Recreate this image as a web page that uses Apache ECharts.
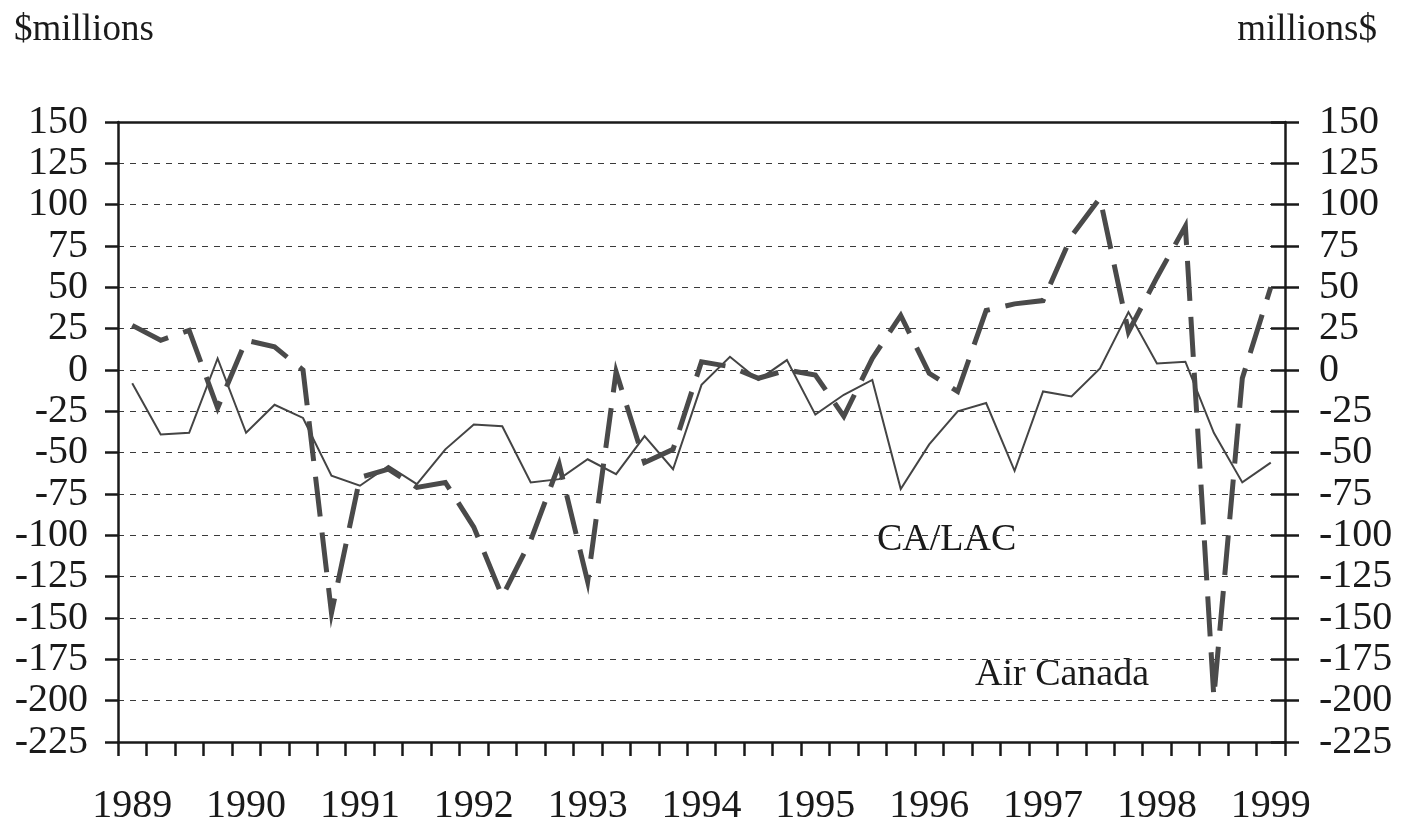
<!DOCTYPE html>
<html>
<head>
<meta charset="utf-8">
<script src="https://cdn.jsdelivr.net/npm/echarts@6/dist/echarts.min.js"></script>
<style>
html,body{margin:0;padding:0;background:#fff;}
#chart{width:1408px;height:821px;}
</style>
</head>
<body>
<div id="chart"></div>
<script>
// Quarterly categories 1989Q1 .. 1999Q1
var quarters = [];
for (var yr = 1989; yr <= 1999; yr++) {
  for (var q = 1; q <= 4; q++) {
    if (yr === 1999 && q > 1) break;
    quarters.push(yr + 'Q' + q);
  }
}

// Air Canada (thick dashed), $ millions
var airCanada = [27, 18, 24, -23, 18, 14, 0, -147,
                 -65, -60, -71, -68, -95, -137, -103, -57,
                 -128, -1, -56, -48, 5, 2, -5, 0,
                 -3, -28, 7, 33, -2, -13, 36, 40,
                 42, 81, 104, 23, 56, 87, -198, -5,
                 50];

// CA/LAC (thin solid), $ millions
var caLac = [-8, -39, -38, 7, -38, -21, -29, -64,
             -70, -58, -69, -48, -33, -34, -68, -66,
             -54, -63, -40, -60, -9, 8, -6, 6,
             -27, -15, -6, -72, -45, -25, -20, -61,
             -13, -16, 1, 35, 4, 5, -38, -68,
             -56];

var yMin = -225, yMax = 150, yStep = 25;

var FONT = '"Liberation Serif", "Times New Roman", serif';
var INK = '#1a1a1a';

var chart = echarts.init(document.getElementById('chart'));
var option = {
  backgroundColor: '#ffffff',
  animation: false,
  grid: { left: 118, right: 123, top: 122, bottom: 79, containLabel: false, outerBoundsMode: 'none' },
  xAxis: [{
    type: 'category',
    data: quarters,
    boundaryGap: true,
    axisLine: { show: true, onZero: false, lineStyle: { color: INK, width: 2.5 } },
    axisTick: { show: true, interval: 0, length: 14, lineStyle: { color: INK, width: 2.5 } },
    axisLabel: {
      interval: 3,
      formatter: function (v) { return v.slice(0, 4); },
      margin: 44, fontSize: 40, color: INK, fontFamily: FONT
    },
    splitLine: { show: false },
    z: 5
  }, {
    type: 'category',
    data: quarters,
    position: 'top',
    boundaryGap: true,
    axisLine: { show: true, onZero: false, lineStyle: { color: INK, width: 2.5 } },
    axisTick: { show: false },
    axisLabel: { show: false },
    splitLine: { show: false },
    z: 5
  }],
  yAxis: [{
    type: 'value', position: 'left',
    min: yMin, max: yMax, interval: yStep,
    axisLine: { show: true, onZero: false, lineStyle: { color: INK, width: 2.5 } },
    axisTick: { show: true, length: 13, lineStyle: { color: INK, width: 2.5 } },
    axisLabel: { margin: 30, fontSize: 40, color: INK, fontFamily: FONT },
    splitLine: { show: true, lineStyle: { color: '#3a3a3a', width: 1, type: [6, 6] } }
  }, {
    type: 'value', position: 'right',
    min: yMin, max: yMax, interval: yStep,
    axisLine: { show: true, onZero: false, lineStyle: { color: INK, width: 2.5 } },
    axisTick: { show: true, length: 14, lineStyle: { color: INK, width: 2.5 } },
    axisLabel: { margin: 34, fontSize: 40, color: INK, fontFamily: FONT },
    splitLine: { show: false }
  }, {
    type: 'value', position: 'right',
    min: yMin, max: yMax, interval: yStep,
    axisLine: { show: false },
    axisTick: { show: true, inside: true, length: 14, lineStyle: { color: INK, width: 2.5 } },
    axisLabel: { show: false },
    splitLine: { show: false }
  }],
  series: [{
    name: 'CA/LAC',
    type: 'line',
    data: caLac,
    symbol: 'none',
    lineStyle: { color: '#444444', width: 2, type: 'solid', join: 'miter' },
    z: 3
  }, {
    name: 'Air Canada',
    type: 'line',
    data: airCanada,
    symbol: 'none',
    lineStyle: { color: '#4a4a4a', width: 5, type: [40, 16], cap: 'butt', join: 'miter' },
    z: 4
  }],
  graphic: [
    { type: 'text', left: 14, top: 12, style: { text: '$millions', font: '37px ' + FONT, fill: INK } },
    { type: 'text', right: 31, top: 12, style: { text: 'millions$', font: '37px ' + FONT, fill: INK } },
    { type: 'text', left: 877, top: 521, style: { text: 'CA/LAC', font: '38px ' + FONT, fill: INK } },
    { type: 'text', left: 975, top: 656, style: { text: 'Air Canada', font: '38px ' + FONT, fill: INK } }
  ]
};
chart.setOption(option);
</script>
</body>
</html>
